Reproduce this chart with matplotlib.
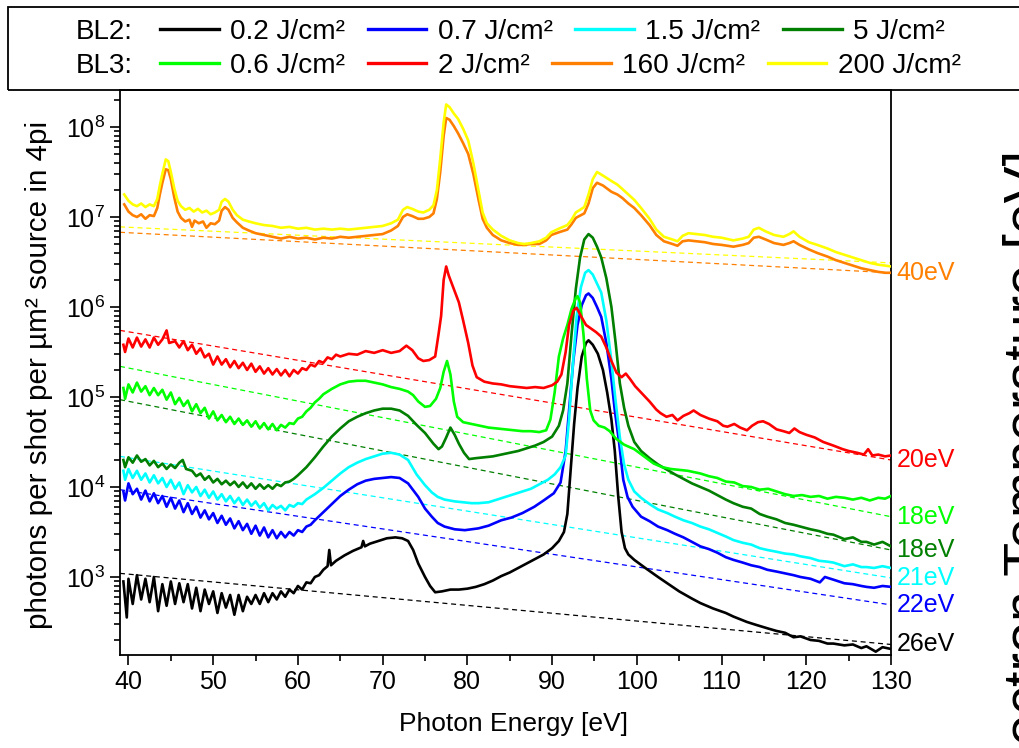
#!/usr/bin/env python3
"""Emission spectra (photons per shot per um^2) of BL2 / BL3 shots, log scale,
with exponential fits and the fitted temperatures at the right edge."""

import matplotlib
matplotlib.use("Agg")
import matplotlib.pyplot as plt
import numpy as np
from matplotlib.lines import Line2D
from matplotlib.patches import Rectangle
from matplotlib.ticker import LogLocator, MultipleLocator, NullFormatter

plt.rcParams["font.family"] = ["Liberation Sans", "DejaVu Sans"]
plt.rcParams["mathtext.fontset"] = "custom"
plt.rcParams["mathtext.rm"] = "Liberation Sans"
plt.rcParams["mathtext.it"] = "Liberation Sans:italic"

# spectra as (photon energy [eV], log10 photons)
black = [(39.4, 2.95), (39.8, 2.55), (40.0, 2.98), (40.5, 2.70), (41.0, 3.02), (41.5, 2.75),
         (42.0, 2.98), (42.5, 2.72), (43.0, 3.00), (43.5, 2.62), (44.0, 2.92), (44.5, 2.68),
         (45.0, 2.95), (45.5, 2.70), (46.0, 2.93), (46.5, 2.72), (47.0, 2.92), (47.5, 2.65),
         (48.0, 2.88), (48.5, 2.62), (49.0, 2.86), (49.5, 2.70), (50.0, 2.84), (50.5, 2.60),
         (51.0, 2.82), (51.5, 2.66), (52.0, 2.80), (52.5, 2.58), (53.0, 2.80), (53.5, 2.62),
         (54.0, 2.78), (54.5, 2.70), (55.0, 2.80), (55.5, 2.70), (56.0, 2.82), (56.5, 2.72),
         (57.0, 2.82), (57.5, 2.75), (58.0, 2.84), (58.5, 2.78), (59.0, 2.86), (59.5, 2.82),
         (60.0, 2.90), (60.5, 2.86), (61.0, 2.94), (61.5, 2.93), (62.0, 3.00), (62.5, 3.02),
         (63.0, 3.08), (63.5, 3.12), (63.7, 3.30), (63.9, 3.13), (64.5, 3.18), (65.5, 3.24),
         (66.5, 3.29), (67.5, 3.33), (67.7, 3.40), (67.9, 3.34), (68.5, 3.37), (69.5, 3.40),
         (70.5, 3.43), (71.5, 3.44), (72.3, 3.43), (73.0, 3.40), (73.6, 3.30), (74.2, 3.15),
         (75.0, 3.00), (75.6, 2.90), (76.2, 2.83), (77.0, 2.84), (78.0, 2.86), (79.0, 2.86),
         (80.0, 2.87), (81.0, 2.89), (82.0, 2.92), (83.0, 2.96), (84.0, 3.01), (85.0, 3.05),
         (86.0, 3.10), (87.0, 3.15), (88.0, 3.20), (89.0, 3.25), (90.0, 3.32), (90.8, 3.40),
         (91.4, 3.50), (91.8, 3.70), (92.2, 4.20), (92.6, 4.70), (93.0, 5.10), (93.5, 5.45),
         (94.0, 5.60), (94.3, 5.63), (94.8, 5.58), (95.4, 5.48), (96.0, 5.30), (96.5, 5.05),
         (97.0, 4.75), (97.4, 4.40), (97.8, 3.90), (98.2, 3.50), (98.6, 3.32), (99.0, 3.25),
         (99.7, 3.19), (101.0, 3.10), (102.5, 3.00), (103.6, 2.93), (105.0, 2.84), (106.5, 2.76),
         (107.5, 2.71), (109.0, 2.65), (110.5, 2.60), (111.4, 2.56), (113.0, 2.50), (114.0, 2.47),
         (115.4, 2.43), (116.5, 2.40), (117.5, 2.38), (118.5, 2.33), (119.3, 2.34), (120.5, 2.30),
         (121.5, 2.29), (122.5, 2.26), (123.2, 2.26), (124.5, 2.24), (125.5, 2.25), (126.5, 2.21),
         (127.1, 2.23), (128.2, 2.17), (129.0, 2.22), (130.0, 2.20)]

blue = [(39.4, 3.95), (39.6, 3.85), (40.0, 4.04), (40.5, 3.92), (41.0, 3.98), (41.5, 3.86),
        (42.0, 3.96), (42.5, 3.84), (43.0, 3.93), (43.5, 3.82), (44.0, 3.90), (44.5, 3.78),
        (45.0, 3.88), (45.5, 3.76), (46.0, 3.85), (46.5, 3.72), (47.0, 3.82), (47.5, 3.70),
        (48.0, 3.78), (48.5, 3.66), (49.0, 3.74), (49.5, 3.64), (50.0, 3.71), (50.5, 3.60),
        (51.0, 3.68), (51.5, 3.58), (52.0, 3.65), (52.5, 3.54), (53.0, 3.62), (53.5, 3.52),
        (54.0, 3.59), (54.5, 3.48), (55.0, 3.57), (55.5, 3.46), (56.0, 3.55), (56.5, 3.44),
        (57.0, 3.52), (57.5, 3.43), (58.0, 3.50), (58.5, 3.44), (59.0, 3.50), (59.5, 3.46),
        (60.0, 3.52), (60.5, 3.50), (61.0, 3.56), (61.5, 3.58), (62.0, 3.63), (63.0, 3.72),
        (64.0, 3.81), (65.0, 3.90), (66.0, 3.97), (67.0, 4.03), (68.0, 4.07), (69.0, 4.09),
        (70.0, 4.10), (71.0, 4.11), (72.0, 4.10), (73.0, 4.04), (74.2, 3.89), (75.0, 3.76),
        (75.8, 3.67), (76.5, 3.60), (77.3, 3.56), (78.5, 3.53), (79.7, 3.52), (81.3, 3.54),
        (82.5, 3.57), (84.0, 3.63), (85.2, 3.66), (86.5, 3.71), (87.9, 3.78), (89.0, 3.85),
        (90.2, 3.93), (91.0, 4.05), (91.6, 4.40), (92.0, 4.85), (92.5, 5.40), (93.0, 5.80),
        (93.5, 6.02), (94.0, 6.13), (94.3, 6.15), (94.8, 6.10), (95.3, 6.00), (95.8, 5.89),
        (96.4, 5.60), (97.0, 5.20), (97.4, 4.85), (97.9, 4.50), (98.4, 4.08), (98.9, 3.89),
        (99.5, 3.78), (100.5, 3.67), (101.5, 3.62), (102.5, 3.56), (103.6, 3.52), (104.5, 3.48),
        (105.5, 3.44), (106.5, 3.39), (107.5, 3.34), (108.5, 3.31), (109.5, 3.27), (110.5, 3.22),
        (111.4, 3.19), (112.5, 3.16), (113.5, 3.13), (114.5, 3.11), (115.4, 3.08), (116.5, 3.06),
        (117.5, 3.04), (118.5, 3.02), (119.3, 3.00), (120.5, 2.98), (121.6, 2.94), (122.2, 3.00),
        (123.2, 2.97), (124.5, 2.93), (125.5, 2.92), (126.5, 2.90), (127.1, 2.89), (128.0, 2.88),
        (129.0, 2.90), (130.0, 2.89)]

cyan = [(39.4, 4.18), (39.6, 4.08), (40.0, 4.20), (40.5, 4.10), (41.0, 4.18), (41.5, 4.08),
        (42.0, 4.15), (42.5, 4.05), (43.0, 4.13), (43.5, 4.04), (44.0, 4.10), (44.5, 4.00),
        (45.0, 4.08), (45.5, 3.98), (46.0, 4.05), (46.5, 3.92), (47.0, 4.02), (47.5, 3.94),
        (48.0, 4.00), (48.5, 3.90), (49.0, 3.97), (49.5, 3.88), (50.0, 3.95), (50.5, 3.86),
        (51.0, 3.92), (51.5, 3.84), (52.0, 3.90), (52.5, 3.82), (53.0, 3.88), (53.5, 3.80),
        (54.0, 3.86), (54.5, 3.79), (55.0, 3.84), (55.5, 3.77), (56.0, 3.82), (56.5, 3.74),
        (57.0, 3.80), (57.5, 3.76), (58.0, 3.79), (58.5, 3.74), (59.0, 3.80), (59.5, 3.78),
        (60.0, 3.82), (60.5, 3.81), (61.0, 3.86), (62.0, 3.92), (63.0, 3.99), (64.0, 4.07),
        (65.0, 4.15), (66.0, 4.22), (67.0, 4.27), (68.0, 4.31), (69.0, 4.34), (70.0, 4.37),
        (71.0, 4.38), (72.0, 4.36), (73.0, 4.30), (74.0, 4.14), (75.0, 4.02), (75.8, 3.94),
        (76.5, 3.89), (77.3, 3.86), (78.5, 3.84), (79.5, 3.83), (80.5, 3.82), (81.3, 3.82),
        (82.5, 3.83), (83.5, 3.86), (84.5, 3.89), (85.5, 3.92), (86.5, 3.95), (87.5, 3.98),
        (88.5, 4.03), (89.5, 4.08), (90.3, 4.14), (91.0, 4.22), (91.6, 4.35), (92.0, 4.75),
        (92.4, 5.30), (92.9, 5.90), (93.4, 6.22), (93.9, 6.38), (94.3, 6.41), (94.8, 6.36),
        (95.3, 6.26), (95.8, 6.16), (96.4, 5.85), (97.0, 5.40), (97.5, 4.95), (98.0, 4.55),
        (98.5, 4.25), (99.0, 4.08), (99.7, 3.95), (100.5, 3.88), (101.5, 3.81), (102.5, 3.75),
        (103.6, 3.71), (104.5, 3.67), (105.5, 3.63), (106.5, 3.60), (107.5, 3.56), (108.5, 3.53),
        (109.5, 3.49), (110.5, 3.45), (111.4, 3.41), (112.5, 3.38), (113.5, 3.36), (114.5, 3.32),
        (115.4, 3.30), (116.5, 3.28), (117.5, 3.26), (118.5, 3.25), (119.3, 3.23), (120.5, 3.21),
        (121.5, 3.18), (122.5, 3.17), (123.2, 3.16), (124.5, 3.12), (125.5, 3.14), (126.5, 3.11),
        (127.1, 3.11), (128.0, 3.10), (129.0, 3.12), (130.0, 3.10)]

dgreen = [(39.4, 4.30), (39.6, 4.22), (40.0, 4.33), (40.5, 4.27), (41.0, 4.35), (41.5, 4.28),
          (42.0, 4.31), (42.5, 4.24), (43.0, 4.29), (43.5, 4.22), (44.0, 4.26), (44.5, 4.20),
          (45.0, 4.25), (45.5, 4.21), (46.0, 4.27), (46.4, 4.30), (46.8, 4.20), (47.5, 4.18),
          (48.0, 4.12), (48.5, 4.15), (49.0, 4.08), (49.5, 4.12), (50.0, 4.05), (50.5, 4.09),
          (51.0, 4.03), (51.5, 4.07), (52.0, 4.02), (52.5, 4.06), (53.0, 4.00), (53.5, 4.05),
          (54.0, 3.99), (54.5, 4.04), (55.0, 3.98), (55.5, 4.03), (56.0, 3.98), (56.5, 4.02),
          (57.0, 3.98), (57.5, 4.03), (58.0, 4.01), (58.5, 4.05), (59.0, 4.06), (59.5, 4.09),
          (60.0, 4.13), (61.0, 4.22), (62.0, 4.33), (63.0, 4.45), (64.0, 4.56), (65.0, 4.65),
          (66.0, 4.73), (67.0, 4.78), (68.0, 4.82), (69.0, 4.85), (70.0, 4.87), (71.0, 4.87),
          (72.0, 4.85), (73.0, 4.79), (74.0, 4.69), (75.0, 4.60), (76.0, 4.48), (76.6, 4.42),
          (77.0, 4.45), (77.5, 4.55), (78.0, 4.66), (78.5, 4.58), (79.0, 4.48), (79.6, 4.38),
          (80.2, 4.31), (81.0, 4.32), (82.0, 4.33), (83.0, 4.34), (84.0, 4.36), (85.0, 4.38),
          (86.0, 4.40), (87.0, 4.43), (88.0, 4.46), (89.0, 4.50), (90.0, 4.56), (90.8, 4.68),
          (91.3, 4.85), (91.8, 5.15), (92.3, 5.70), (92.8, 6.20), (93.3, 6.55), (93.8, 6.75),
          (94.3, 6.81), (94.8, 6.77), (95.3, 6.67), (95.8, 6.55), (96.4, 6.32), (97.0, 6.00),
          (97.5, 5.60), (98.0, 5.15), (98.5, 4.88), (99.0, 4.68), (99.7, 4.50), (100.5, 4.40),
          (101.5, 4.32), (102.5, 4.25), (103.6, 4.19), (104.5, 4.14), (105.5, 4.09), (106.5, 4.04),
          (107.5, 4.00), (108.5, 3.96), (109.5, 3.91), (110.5, 3.86), (111.4, 3.82), (112.5, 3.78),
          (113.5, 3.76), (114.5, 3.70), (115.4, 3.67), (116.5, 3.64), (117.5, 3.60), (118.5, 3.58),
          (119.3, 3.56), (120.5, 3.53), (121.5, 3.51), (122.5, 3.48), (123.2, 3.47), (124.5, 3.42),
          (125.5, 3.44), (126.5, 3.39), (127.1, 3.39), (128.0, 3.36), (129.0, 3.39), (130.0, 3.34)]

lgreen = [(39.4, 5.10), (39.6, 4.98), (40.0, 5.14), (40.5, 5.05), (41.0, 5.16), (41.5, 5.06),
          (42.0, 5.12), (42.5, 5.02), (43.0, 5.10), (43.5, 5.02), (44.0, 5.08), (44.5, 4.97),
          (45.0, 5.05), (45.5, 4.92), (46.0, 4.99), (46.5, 4.90), (47.0, 4.96), (47.5, 4.84),
          (48.0, 4.92), (48.5, 4.82), (49.0, 4.88), (49.5, 4.76), (50.0, 4.84), (50.5, 4.74),
          (51.0, 4.80), (51.5, 4.72), (52.0, 4.78), (52.5, 4.70), (53.0, 4.76), (53.5, 4.69),
          (54.0, 4.74), (54.5, 4.67), (55.0, 4.73), (55.5, 4.65), (56.0, 4.71), (56.5, 4.64),
          (57.0, 4.70), (57.5, 4.63), (58.0, 4.69), (58.5, 4.66), (59.0, 4.71), (59.5, 4.70),
          (60.0, 4.76), (60.5, 4.78), (61.0, 4.84), (61.5, 4.88), (62.0, 4.94), (62.5, 4.98),
          (63.0, 5.03), (64.0, 5.09), (65.0, 5.14), (66.0, 5.17), (67.0, 5.18), (68.0, 5.18),
          (69.0, 5.16), (70.0, 5.14), (71.0, 5.11), (72.0, 5.09), (73.0, 5.06), (73.6, 5.02),
          (74.2, 4.95), (75.0, 4.89), (75.6, 4.90), (76.3, 4.98), (76.8, 5.10), (77.2, 5.28),
          (77.6, 5.40), (78.0, 5.25), (78.4, 4.95), (78.8, 4.78), (79.5, 4.72), (80.5, 4.70),
          (81.5, 4.68), (82.5, 4.66), (83.5, 4.65), (84.5, 4.64), (85.5, 4.63), (86.5, 4.62),
          (87.5, 4.62), (88.5, 4.61), (89.3, 4.63), (89.8, 4.75), (90.3, 5.05), (90.8, 5.45),
          (91.3, 5.65), (91.8, 5.80), (92.3, 5.98), (92.8, 6.10), (93.0, 6.12), (93.3, 6.05),
          (93.7, 5.70), (94.1, 5.20), (94.5, 4.85), (94.9, 4.74), (95.5, 4.68), (96.2, 4.66),
          (96.8, 4.62), (97.5, 4.54), (98.5, 4.47), (99.7, 4.42), (101.0, 4.33), (102.0, 4.26),
          (103.0, 4.22), (104.0, 4.20), (105.0, 4.19), (106.0, 4.18), (107.5, 4.15), (108.5, 4.12),
          (109.5, 4.10), (110.5, 4.06), (111.5, 4.05), (112.5, 4.01), (113.5, 4.00), (114.5, 3.97),
          (115.5, 3.98), (116.5, 3.95), (117.5, 3.92), (118.5, 3.90), (119.5, 3.91), (120.5, 3.89),
          (121.5, 3.90), (122.5, 3.87), (123.5, 3.89), (124.5, 3.88), (125.5, 3.86), (126.5, 3.88),
          (127.5, 3.85), (128.5, 3.88), (129.3, 3.87), (130.0, 3.90)]

red = [(39.4, 5.58), (39.6, 5.50), (40.0, 5.65), (40.5, 5.55), (41.0, 5.66), (41.5, 5.56),
       (42.0, 5.64), (42.5, 5.55), (43.0, 5.66), (43.5, 5.58), (44.0, 5.64), (44.5, 5.74),
       (44.8, 5.60), (45.5, 5.62), (46.0, 5.55), (46.5, 5.62), (47.0, 5.52), (47.5, 5.58),
       (48.0, 5.48), (48.5, 5.54), (49.0, 5.44), (49.5, 5.48), (50.0, 5.36), (50.5, 5.45),
       (51.0, 5.36), (51.5, 5.42), (52.0, 5.33), (52.5, 5.40), (53.0, 5.32), (53.5, 5.38),
       (54.0, 5.30), (54.5, 5.37), (55.0, 5.28), (55.5, 5.34), (56.0, 5.26), (56.5, 5.32),
       (57.0, 5.25), (57.5, 5.31), (58.0, 5.24), (58.5, 5.30), (59.0, 5.23), (59.5, 5.30),
       (60.0, 5.26), (60.5, 5.32), (61.0, 5.30), (61.5, 5.36), (62.0, 5.34), (62.5, 5.40),
       (63.0, 5.38), (63.5, 5.44), (64.0, 5.42), (64.5, 5.47), (65.0, 5.45), (66.0, 5.48),
       (67.0, 5.47), (68.0, 5.51), (69.0, 5.49), (70.0, 5.52), (71.0, 5.49), (72.0, 5.51),
       (72.8, 5.57), (73.5, 5.52), (74.2, 5.43), (74.8, 5.40), (75.5, 5.41), (76.2, 5.45),
       (76.6, 5.70), (76.9, 5.90), (77.2, 6.30), (77.5, 6.45), (77.8, 6.35), (78.2, 6.25),
       (78.6, 6.15), (79.0, 6.05), (79.5, 5.85), (80.1, 5.60), (80.6, 5.35), (81.1, 5.22),
       (82.0, 5.17), (83.0, 5.15), (84.0, 5.14), (85.0, 5.12), (86.0, 5.11), (87.0, 5.10),
       (88.0, 5.11), (89.0, 5.10), (90.0, 5.13), (90.6, 5.17), (91.1, 5.25), (91.6, 5.50),
       (92.0, 5.80), (92.5, 5.96), (92.9, 5.99), (93.4, 5.90), (94.0, 5.80), (94.6, 5.76),
       (95.2, 5.72), (95.8, 5.67), (96.4, 5.55), (97.0, 5.40), (97.6, 5.27), (98.2, 5.22),
       (98.7, 5.26), (99.2, 5.20), (99.8, 5.12), (100.5, 5.05), (101.5, 4.95), (102.3, 4.86),
       (102.8, 4.82), (103.5, 4.78), (104.2, 4.80), (104.8, 4.74), (105.5, 4.79), (106.2, 4.82),
       (106.7, 4.85), (107.5, 4.80), (108.5, 4.76), (109.5, 4.73), (110.2, 4.68), (110.7, 4.67),
       (111.5, 4.70), (112.2, 4.66), (113.0, 4.63), (113.6, 4.68), (114.3, 4.72), (114.9, 4.73),
       (115.6, 4.70), (116.5, 4.64), (117.3, 4.62), (118.0, 4.60), (118.6, 4.65), (119.2, 4.61),
       (120.0, 4.58), (121.0, 4.55), (122.0, 4.50), (123.2, 4.46), (124.3, 4.42), (125.0, 4.40),
       (126.0, 4.38), (126.8, 4.36), (127.3, 4.42), (127.8, 4.35), (128.5, 4.36), (129.3, 4.34),
       (130.0, 4.35)]

orange = [(39.5, 7.14), (40.0, 7.06), (40.5, 7.02), (41.0, 7.00), (41.5, 7.03), (42.0, 6.98),
          (42.5, 7.02), (43.0, 7.01), (43.4, 7.10), (43.7, 7.25), (44.0, 7.38), (44.4, 7.53),
          (44.7, 7.52), (45.0, 7.42), (45.4, 7.22), (45.8, 7.06), (46.2, 6.99), (46.7, 6.95),
          (47.2, 6.97), (47.5, 6.89), (47.8, 6.96), (48.3, 6.93), (48.8, 6.95), (49.2, 6.88),
          (49.7, 6.93), (50.2, 6.92), (50.7, 6.96), (51.0, 7.07), (51.4, 7.11), (51.8, 7.08),
          (52.3, 6.99), (52.8, 6.94), (53.5, 6.88), (54.2, 6.85), (55.0, 6.82), (56.0, 6.80),
          (57.0, 6.78), (58.0, 6.76), (59.0, 6.78), (60.0, 6.76), (61.0, 6.77), (62.0, 6.75),
          (63.0, 6.77), (64.0, 6.76), (65.0, 6.78), (66.0, 6.77), (67.0, 6.78), (68.0, 6.79),
          (69.0, 6.80), (70.0, 6.81), (71.0, 6.85), (71.8, 6.90), (72.4, 7.00), (72.9, 7.03),
          (73.5, 7.01), (74.2, 6.98), (74.8, 6.98), (75.5, 7.00), (76.0, 7.04), (76.4, 7.20),
          (76.8, 7.50), (77.2, 7.90), (77.5, 8.10), (77.9, 8.08), (78.4, 8.01), (78.9, 7.93),
          (79.5, 7.82), (80.1, 7.70), (80.7, 7.48), (81.3, 7.20), (81.8, 6.98), (82.3, 6.88),
          (83.0, 6.80), (84.0, 6.74), (85.0, 6.71), (86.0, 6.69), (86.7, 6.69), (87.5, 6.70),
          (88.5, 6.70), (89.3, 6.74), (89.9, 6.80), (90.8, 6.83), (91.8, 6.86), (92.3, 6.92),
          (92.8, 6.99), (93.8, 7.04), (94.3, 7.15), (94.8, 7.32), (95.3, 7.38), (96.0, 7.35),
          (97.0, 7.28), (97.7, 7.25), (98.3, 7.21), (99.0, 7.15), (99.7, 7.10), (100.5, 7.02),
          (101.5, 6.91), (102.3, 6.80), (103.2, 6.73), (104.2, 6.70), (104.8, 6.68), (105.4, 6.73),
          (106.1, 6.74), (107.0, 6.73), (108.0, 6.72), (109.0, 6.70), (110.0, 6.69), (111.4, 6.67),
          (112.5, 6.69), (113.2, 6.71), (113.8, 6.77), (114.4, 6.78), (115.2, 6.75), (116.2, 6.71),
          (117.3, 6.69), (118.0, 6.71), (118.5, 6.73), (119.2, 6.69), (120.3, 6.64), (121.3, 6.60),
          (122.5, 6.56), (123.5, 6.52), (124.5, 6.49), (125.5, 6.46), (126.5, 6.43), (127.5, 6.41),
          (128.5, 6.39), (129.3, 6.38), (130.0, 6.38)]

yellow = [(39.5, 7.25), (40.0, 7.18), (40.5, 7.14), (41.0, 7.12), (41.5, 7.15), (42.0, 7.11),
          (42.5, 7.14), (43.0, 7.12), (43.4, 7.20), (43.7, 7.35), (44.0, 7.48), (44.4, 7.64),
          (44.7, 7.62), (45.0, 7.50), (45.4, 7.32), (45.8, 7.18), (46.2, 7.12), (46.7, 7.08),
          (47.2, 7.10), (47.7, 7.06), (48.2, 7.09), (48.7, 7.05), (49.2, 7.07), (49.7, 7.03),
          (50.2, 7.05), (50.7, 7.08), (51.0, 7.17), (51.4, 7.20), (51.8, 7.17), (52.3, 7.08),
          (52.8, 7.02), (53.5, 6.97), (54.2, 6.95), (55.0, 6.93), (56.0, 6.91), (57.0, 6.90),
          (58.0, 6.88), (59.0, 6.89), (60.0, 6.87), (61.0, 6.88), (62.0, 6.86), (63.0, 6.87),
          (64.0, 6.86), (65.0, 6.87), (66.0, 6.86), (67.0, 6.87), (68.0, 6.88), (69.0, 6.89),
          (70.0, 6.90), (71.0, 6.93), (71.8, 6.97), (72.4, 7.08), (72.9, 7.11), (73.5, 7.09),
          (74.2, 7.06), (74.8, 7.05), (75.5, 7.08), (76.0, 7.13), (76.4, 7.30), (76.8, 7.65),
          (77.2, 8.05), (77.5, 8.25), (77.9, 8.22), (78.4, 8.15), (78.9, 8.09), (79.5, 7.98),
          (80.1, 7.85), (80.7, 7.60), (81.3, 7.30), (81.8, 7.05), (82.3, 6.93), (83.0, 6.86),
          (84.0, 6.79), (85.0, 6.74), (86.0, 6.71), (86.7, 6.70), (87.5, 6.71), (88.5, 6.73),
          (89.3, 6.77), (89.9, 6.83), (90.8, 6.87), (91.8, 6.91), (92.3, 6.97), (92.8, 7.05),
          (93.8, 7.11), (94.3, 7.25), (94.8, 7.42), (95.3, 7.50), (96.0, 7.46), (97.0, 7.40),
          (97.7, 7.36), (98.3, 7.31), (99.0, 7.25), (99.7, 7.19), (100.5, 7.10), (101.5, 6.98),
          (102.3, 6.86), (103.2, 6.78), (104.2, 6.75), (104.8, 6.73), (105.4, 6.79), (106.1, 6.82),
          (107.0, 6.81), (108.0, 6.80), (109.0, 6.78), (110.0, 6.77), (111.4, 6.74), (112.5, 6.76),
          (113.2, 6.78), (113.8, 6.86), (114.4, 6.88), (115.2, 6.84), (116.2, 6.80), (117.3, 6.78),
          (118.0, 6.81), (118.5, 6.84), (119.2, 6.78), (120.3, 6.72), (121.3, 6.69), (122.5, 6.65),
          (123.5, 6.61), (124.5, 6.58), (125.5, 6.55), (126.5, 6.52), (127.5, 6.49), (128.5, 6.47),
          (129.3, 6.46), (130.0, 6.45)]

spectra = [black, blue, cyan, dgreen, lgreen, red, orange, yellow]
labels = ["0.2 J/cm²", "0.7 J/cm²", "1.5 J/cm²", "5 J/cm²",
          "0.6 J/cm²", "2 J/cm²", "160 J/cm²", "200 J/cm²"]
colors = ["#000000", "#0000ff", "#00ffff", "#007f00",
          "#00ff00", "#ff0000", "#ff8000", "#ffff00"]

# exponential fits: log10 photons at 39 eV and at 130 eV
fit_e = [39.0, 130.0]
fit_start = [3.04, 3.97, 4.34, 4.97, 5.34, 5.74, 6.83, 6.89]
fit_end = [2.25, 2.69, 2.99, 3.30, 3.67, 4.30, 6.38, 6.49]
# fitted temperatures [eV] (yellow has none)
temps = [26, 22, 21, 18, 18, 20, 40, None]

W, H = 1020, 748
fig = plt.figure(figsize=(W / 100, H / 100), dpi=100)
ax = fig.add_axes([120 / W, 93 / H, 771 / W, 565 / H])

for data, c in zip(spectra, colors):
    e, lg = np.array(data).T
    ax.plot(e, 10 ** lg, color=c, lw=1.9, solid_joinstyle="round", zorder=3)

for s, t, c in zip(fit_start, fit_end, colors):
    ax.plot(fit_e, [10 ** s, 10 ** t], color=c, lw=0.9, ls=(0, (4, 3)), zorder=2)

for t, end, c in zip(temps, fit_end, colors):
    if t is None:
        continue
    ax.annotate(f"{t}eV", xy=(130, 10 ** end), xytext=(4, 0), textcoords="offset points",
                ha="left", va="center", color=c, fontsize=18, annotation_clip=False)

ax.set_yscale("log")
ax.set_xlim(39.0, 130.0)
ax.set_ylim(10 ** 2.133, 10 ** 8.411)
ax.set_xticks(range(40, 131, 10))
ax.xaxis.set_minor_locator(MultipleLocator(5))
ax.yaxis.set_major_locator(LogLocator(base=10))
ax.yaxis.set_minor_locator(LogLocator(base=10, subs=np.arange(2, 10)))
ax.yaxis.set_minor_formatter(NullFormatter())
ax.tick_params(which="both", direction="out", width=1.2, labelsize=18,
               top=False, right=False)
ax.tick_params(which="major", length=7)
ax.tick_params(which="minor", length=4)
for sp in ax.spines.values():
    sp.set_linewidth(1.3)

ax.set_xlabel("Photon Energy [eV]", fontsize=19)
ax.xaxis.set_label_coords(0.511, -0.1)
ax.set_ylabel("photons per shot per µm² source in 4pi", fontsize=21.3)
ax.yaxis.set_label_coords(-0.087, 0.495)

# legend box across the top, two rows laid out one after the other
fig.add_artist(Rectangle((8 / W, 1 - 90 / H), 1.05, 83 / H, transform=fig.transFigure,
                         fill=False, lw=1.3, color="black"))
for row, (tag, yrow) in enumerate([("BL2:", 32), ("BL3:", 66)]):
    idx = range(row * 4, row * 4 + 4)
    handles = [Line2D([], [], color=colors[i], lw=2.4) for i in idx]
    fig.text(133 / W, 1 - yrow / H, tag, ha="right", va="center", fontsize=20)
    fig.legend(handles, [labels[i] for i in idx], ncol=4, loc="center left",
               bbox_to_anchor=(160 / W, 1 - yrow / H), frameon=False, fontsize=20.2,
               handlelength=2.1, handletextpad=0.4, columnspacing=0.8,
               borderpad=0, borderaxespad=0)

# axis title of the neighbouring panel, cut by the right edge
fig.text(1003 / W, 1 - 150 / H, "Electron Temperature [eV]", rotation=90,
         ha="left", va="top", fontsize=40)

fig.savefig("out.png", dpi=100)
